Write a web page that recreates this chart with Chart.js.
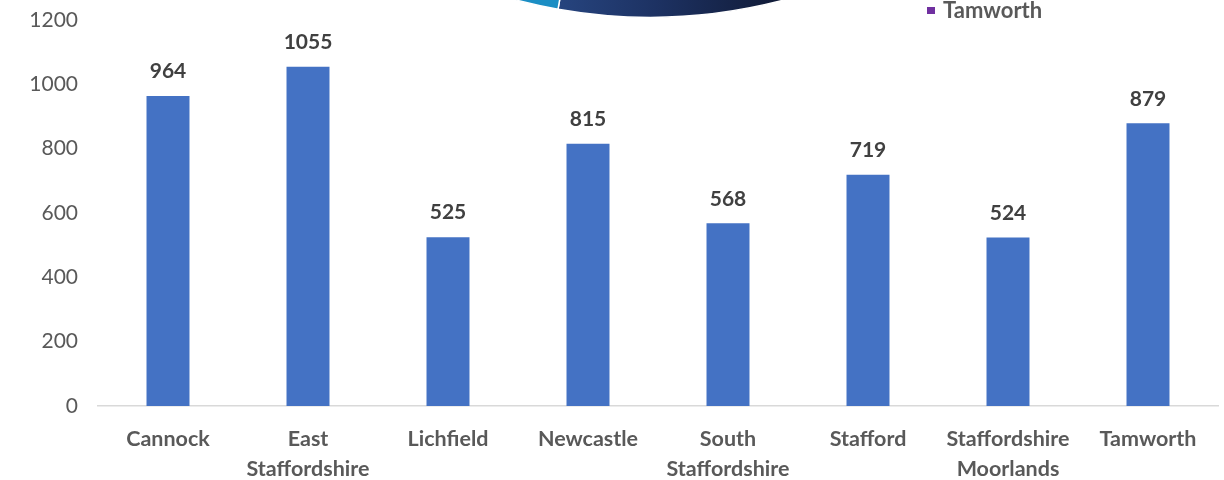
<!DOCTYPE html>
<html>
<head>
<meta charset="utf-8">
<script src="https://cdn.jsdelivr.net/npm/chart.js@4.4.1/dist/chart.umd.min.js"></script>
<style>
    html, body { margin: 0; padding: 0; background: #fff; }
    .holder { position: relative; width: 1224px; height: 480px; overflow: hidden; }
    .pie-box { position: absolute; left: 120px; top: -1042px; width: 1060px; height: 1060px; }
    .bar-box { position: absolute; left: 0; top: 0; width: 1224px; height: 480px; }
    .pie-legend { position: absolute; left: 927px; top: -4px; font: bold 22px Lato, sans-serif; color: #595959; }
    .pie-legend i { display: inline-block; width: 8px; height: 7px; background: #7030a0; margin-right: 8px; vertical-align: 4px; }
</style>
</head>
<body>
<div class="holder">
    <div class="pie-box"><canvas id="pieChart" width="1060" height="1060"></canvas></div>
    <div class="bar-box"><canvas id="barChart" width="1224" height="480"></canvas></div>
    <div class="pie-legend"><i></i>Tamworth</div>
</div>
<script>
// данные
const districts = [
    "Cannock",
    ["East", "Staffordshire"],
    "Lichfield",
    "Newcastle",
    ["South", "Staffordshire"],
    "Stafford",
    ["Staffordshire", "Moorlands"],
    "Tamworth"
];
const counts = [964, 1055, 525, 815, 568, 719, 524, 879];
const yTicks = [0, 200, 400, 600, 800, 1000, 1200];

// цвета кусков круговой диаграммы (видно только низ)
const pieColors = ['#4472c4', '#ed7d31', '#a5a5a5', 'navy', '#1b8ec4', '#70ad47', '#264478', '#7030a0'];

const FONT = "Lato, 'Open Sans', sans-serif";

// подписи значений над столбцами
const valueLabels = {
    id: 'valueLabels',
    afterDatasetsDraw(chart) {
        const ctx = chart.ctx;
        const meta = chart.getDatasetMeta(0);
        ctx.save();
        ctx.font = "bold 21px " + FONT;
        ctx.fillStyle = '#404040';
        ctx.textAlign = 'center';
        ctx.textBaseline = 'bottom';
        meta.data.forEach((bar, i) => {
            ctx.fillText(chart.data.datasets[0].data[i], bar.x, bar.y - 14);
        });
        ctx.restore();
    }
}

new Chart(document.getElementById('barChart').getContext('2d'), {
    type: 'bar',
    data: {
        labels: districts,
        datasets: [{
            data: counts,
            backgroundColor: '#4472c4',
            barPercentage: 0.614,
            categoryPercentage: 0.5
        }]
    },
    options: {
        responsive: false,
        animation: false,
        layout: { padding: { top: 20, right: 6, left: 0, bottom: 0 } },
        plugins: {
            legend: { display: false },
            tooltip: { enabled: false }
        },
        scales: {
            x: {
                grid: { display: true, drawOnChartArea: false, drawTicks: false },
                border: { display: true, color: '#d9d9d9', width: 1.5 },
                ticks: {
                    autoSkip: false,
                    maxRotation: 0,
                    padding: 18,
                    color: '#595959',
                    font: { family: FONT, size: 21.5, weight: 'bold', lineHeight: 1.4 }
                },
                afterFit: (scale) => { scale.height = 74; }
            },
            y: {
                min: 0,
                max: 1200,
                afterBuildTicks: (scale) => { scale.ticks = yTicks.map(v => ({ value: v })); },
                grid: { display: false },
                border: { display: false },
                ticks: {
                    padding: 12,
                    color: '#595959',
                    font: { family: FONT, size: 21 },
                    callback: (v) => String(v)
                },
                afterFit: (scale) => {
                    scale.width = 98;
                    scale.paddingTop = 0;
                    scale.paddingBottom = 0;
                }
            }
        }
    },
    plugins: [valueLabels]
});

// круговая диаграмма сверху (обрезана)
new Chart(document.getElementById('pieChart').getContext('2d'), {
    type: 'pie',
    data: {
        labels: districts,
        datasets: [{
            data: counts,
            backgroundColor: (c) => {
                const col = pieColors[c.dataIndex];
                if (col != 'navy') return col;
                const g = c.chart.ctx.createLinearGradient(390, 0, 680, 0);
                g.addColorStop(0, '#2b4d8c');
                g.addColorStop(0.5, '#1d3263');
                g.addColorStop(1, '#0f1730');
                return g;
            },
            borderColor: '#ffffff',
            borderWidth: 1.5
        }]
    },
    options: {
        responsive: false,
        animation: false,
        rotation: -9.9,
        layout: { padding: 0 },
        plugins: {
            legend: { display: false },
            tooltip: { enabled: false }
        }
    }
});
</script>
</body>
</html>
